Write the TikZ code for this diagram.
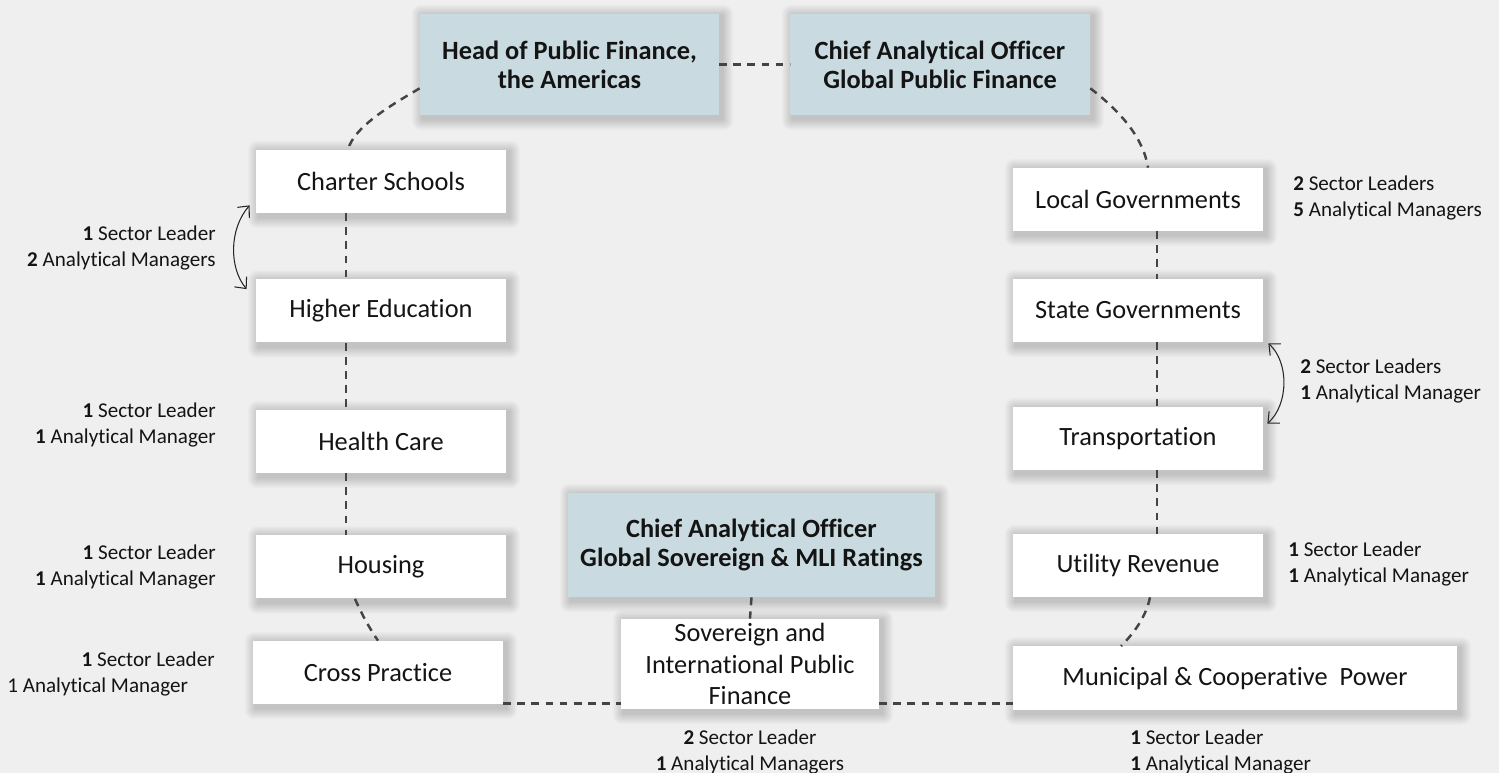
\documentclass[tikz,border=0pt]{standalone}
\usepackage{fontspec}
\setmainfont{Carlito}[Ligatures=NoCommon]
\usetikzlibrary{calc,arrows.meta}
\definecolor{bgc}{HTML}{EFEFEF}
\definecolor{hdc}{HTML}{C9DBE0}
\definecolor{lnc}{HTML}{444444}
\definecolor{txc}{HTML}{141414}
\newdimen\pxu \pxu=0.02cm
\pgfdeclarelayer{bglayer}\pgfdeclarelayer{shadowlayer}
\pgfsetlayers{bglayer,shadowlayer,main}
\newcommand\boxshadow[1]{%
  \begin{pgfonlayer}{shadowlayer}
    \foreach \k in {1,...,11}
      \fill[black,opacity=0.016,rounded corners=\k*0.5pt] ($(#1.south west)+(-\k+3,\k+4)$) rectangle ($(#1.north east)+(\k+3,-\k+2)$);
  \end{pgfonlayer}}
\tikzset{
  unitbox/.style={fill=white, text=txc, font=\fontsize{15}{18}\selectfont, inner sep=0pt,
    minimum width=250\pxu, minimum height=63\pxu, align=center},
  headbox/.style={unitbox, fill=hdc, font=\bfseries\fontsize{15}{16.5}\selectfont},
  conn/.style={draw=lnc, line width=1.4pt, dash pattern=on 4.5pt off 3.5pt},
  lbl/.style={text=txc, font=\fontsize{12}{14.7}\selectfont, inner sep=0pt},
  dbl/.style={draw=black!85, line width=0.6pt,
    {Straight Barb[length=5pt,width=9pt]}-{Straight Barb[length=5pt,width=9pt]}}
}
\begin{document}
\begin{tikzpicture}[x=0.02cm,y=-0.02cm]
\begin{pgfonlayer}{bglayer}
  \fill[bgc] (0,0) rectangle (1499,773);
\end{pgfonlayer}
\useasboundingbox (0,0) rectangle (1499,773);

% top boxes
\node[headbox, minimum width=299\pxu, minimum height=101\pxu] (head) at (569.5,64.5) {Head of Public Finance,\\the Americas};
\node[headbox, minimum width=300\pxu, minimum height=101\pxu] (gpf) at (940,64.5) {Chief Analytical Officer\\Global Public Finance};

% left column
\node[unitbox] (charter) at (381,181.5) {Charter Schools};
\node[unitbox] (higher) at (381,311) {Higher Education};
\node[unitbox] (health) at (381,441.5) {Health Care};
\node[unitbox] (housing) at (381,567) {Housing};
\node[unitbox] (cross) at (378,672.5) {Cross Practice};

% right column
\node[unitbox] (local) at (1138,199.5) {Local Governments};
\node[unitbox] (state) at (1138,310.5) {State Governments};
\node[unitbox] (transp) at (1138,438.5) {Transportation};
\node[unitbox] (utility) at (1138,565.5) {Utility Revenue};
\node[unitbox, minimum width=444\pxu] (municipal) at (1235,678) {Municipal \& Cooperative\ \ Power};

% bottom centre
\node[headbox, minimum width=367\pxu, minimum height=104\pxu] (chiefsov) at (751.5,545) {Chief Analytical Officer\\Global Sovereign \& MLI Ratings};
\node[unitbox, minimum width=258\pxu, minimum height=90\pxu] (sov) at (750,664) {Sovereign and\\International Public\\Finance};

\foreach \b in {head,gpf,charter,higher,health,housing,cross,local,state,transp,utility,municipal,chiefsov,sov}
  {\boxshadow{\b}}

% connectors
\draw[conn] (head.east) -- (gpf.west);
\draw[conn] ($(head.south west)+(0,-27)$) .. controls (395,103) and (354,126) .. ([xshift=-33\pxu]charter.north);
\draw[conn] ([xshift=-35\pxu]charter.south) -- ([xshift=-35\pxu]higher.north);
\draw[conn] ([xshift=-35\pxu]higher.south) -- ([xshift=-35\pxu]health.north);
\draw[conn] ([xshift=-35\pxu]health.south) -- ([xshift=-35\pxu]housing.north);
\draw[conn] ([xshift=-26\pxu]housing.south) .. controls (362,615) and (370,629) .. (cross.north);

\draw[conn] ($(gpf.south east)+(0,-27)$) .. controls (1116,108) and (1143,135) .. ([xshift=10\pxu]local.north);
\draw[conn] ([xshift=19\pxu]local.south) -- ([xshift=19\pxu]state.north);
\draw[conn] ([xshift=19\pxu]state.south) -- ([xshift=19\pxu]transp.north);
\draw[conn] ([xshift=19\pxu]transp.south) -- ([xshift=19\pxu]utility.north);
\draw[conn] ([xshift=12\pxu]utility.south) .. controls (1146,617) and (1134,633) .. ([xshift=-114\pxu]municipal.north);

\draw[conn] ($(cross.south east)+(0,-1)$) coordinate (bl) -- (bl -| sov.west);
\draw[conn] (bl -| sov.east) -- (bl -| municipal.west);
\draw[conn] (chiefsov.south) -- (sov.north);

% curved double arrows
\draw[dbl] ($(charter.south west)+(-6,-8)$) .. controls (229,229) and (229,268) .. ($(higher.north west)+(-9,10)$);
\draw[dbl] ($(state.south east)+(5,1)$) .. controls (1289,362) and (1289,404) .. ($(transp.north east)+(4,17)$);

% labels left
\node[lbl, anchor=east, align=right] (l1) at (216,248) {\textbf{1} Sector Leader\\\textbf{2} Analytical Managers};
\node[lbl, anchor=east, align=right] (l2) at (216,425) {\textbf{1} Sector Leader\\\textbf{1} Analytical Manager};
\node[lbl, anchor=east, align=right] (l3) at (216,567) {\textbf{1} Sector Leader\\\textbf{1} Analytical Manager};
\node[lbl, anchor=base east] (l4a) at (215,666) {\textbf{1} Sector Leader};
\node[lbl, anchor=base west] (l4b) at (7,692) {1 Analytical Manager};

% labels right
\node[lbl, anchor=west, align=left] (r1) at (1293,198) {\textbf{2} Sector Leaders\\\textbf{5} Analytical Managers};
\node[lbl, anchor=west, align=left] (r2) at (1300,381) {\textbf{2} Sector Leaders\\\textbf{1} Analytical Manager};
\node[lbl, anchor=west, align=left] (r3) at (1288,564) {\textbf{1} Sector Leader\\\textbf{1} Analytical Manager};
\node[lbl, anchor=west, align=left] (r4) at (1130,752) {\textbf{1} Sector Leader\\\textbf{1} Analytical Manager};
\node[lbl, align=center] (s1) at (750,752) {\textbf{2} Sector Leader\\\textbf{1} Analytical Managers};
\end{tikzpicture}
\end{document}
